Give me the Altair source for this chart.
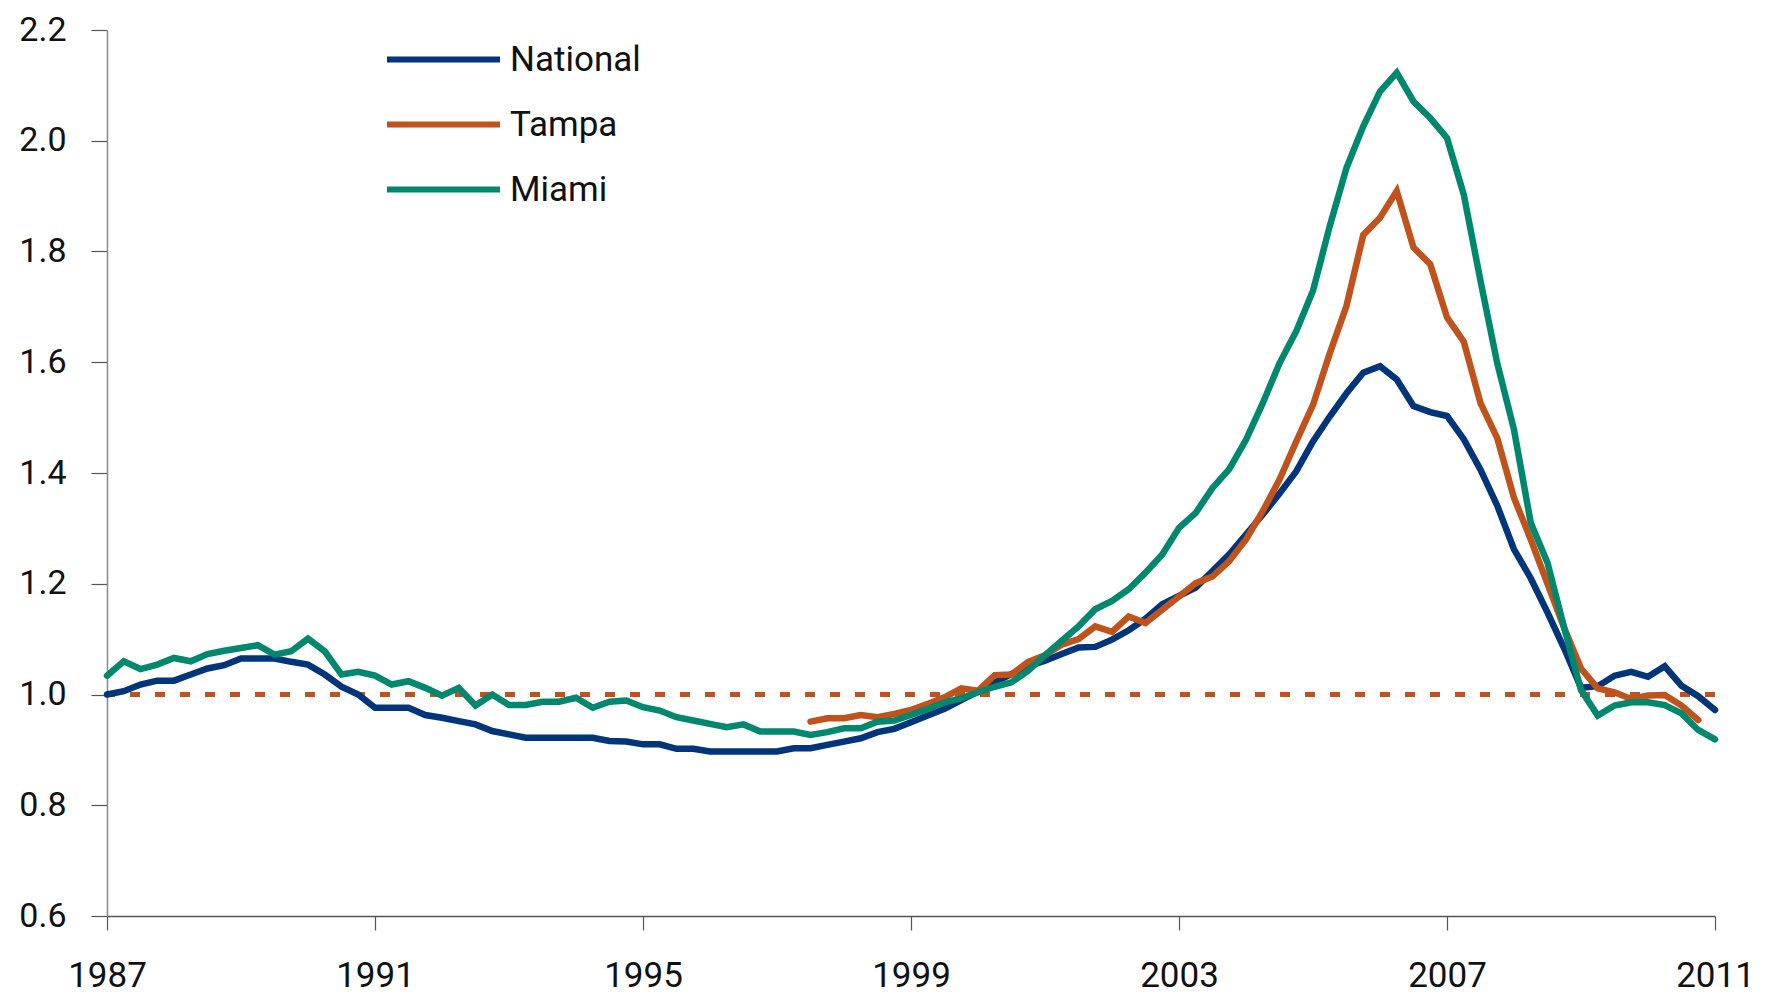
import altair as alt
import pandas as pd

# ---------------- data ----------------
start_year = 1987
n_quarters = 97  # 1987Q1 .. 2011Q1
quarters = [start_year + q / 4 for q in range(n_quarters)]

national = [
    1.000, 1.006, 1.018, 1.025, 1.025, 1.036, 1.047, 1.053, 1.065, 1.065,
    1.065, 1.059, 1.054, 1.036, 1.014, 1.000, 0.976, 0.976, 0.976, 0.963,
    0.958, 0.952, 0.946, 0.934, 0.928, 0.922, 0.922, 0.922, 0.922, 0.922,
    0.916, 0.915, 0.910, 0.910, 0.902, 0.902, 0.897, 0.897, 0.897, 0.897,
    0.897, 0.903, 0.903, 0.909, 0.915, 0.921, 0.932, 0.938, 0.950, 0.962,
    0.974, 0.990, 1.005, 1.022, 1.037, 1.051, 1.061, 1.073, 1.085, 1.086,
    1.099, 1.116, 1.137, 1.163, 1.178, 1.193, 1.223, 1.253, 1.289, 1.325,
    1.363, 1.403, 1.457, 1.502, 1.544, 1.581, 1.593, 1.569, 1.521, 1.510,
    1.503, 1.461, 1.406, 1.341, 1.262, 1.210, 1.148, 1.083, 1.012, 1.015,
    1.034, 1.041, 1.032, 1.051, 1.016, 0.997, 0.972,
]

miami = [
    1.034, 1.060, 1.046, 1.054, 1.066, 1.060, 1.073, 1.079, 1.084, 1.089,
    1.072, 1.078, 1.101, 1.078, 1.036, 1.041, 1.034, 1.018, 1.024, 1.012,
    0.998, 1.012, 0.980, 1.000, 0.981, 0.981, 0.987, 0.987, 0.994, 0.976,
    0.987, 0.989, 0.977, 0.971, 0.959, 0.953, 0.947, 0.941, 0.946, 0.933,
    0.933, 0.933, 0.927, 0.932, 0.939, 0.939, 0.951, 0.953, 0.963, 0.974,
    0.986, 0.993, 1.004, 1.014, 1.022, 1.043, 1.071, 1.097, 1.123, 1.154,
    1.169, 1.190, 1.220, 1.253, 1.301, 1.328, 1.373, 1.407, 1.460, 1.526,
    1.598, 1.656, 1.729, 1.846, 1.951, 2.026, 2.089, 2.123, 2.071, 2.041,
    2.005, 1.903, 1.747, 1.598, 1.478, 1.310, 1.238, 1.120, 1.008, 0.962,
    0.980, 0.986, 0.986, 0.981, 0.966, 0.936, 0.919,
]

tampa_start = 42  # 1997Q3
tampa = [
    0.951, 0.957, 0.957, 0.963, 0.959, 0.965, 0.972, 0.983, 0.995, 1.011,
    1.007, 1.035, 1.036, 1.059, 1.071, 1.090, 1.100, 1.123, 1.113, 1.141,
    1.129, 1.153, 1.177, 1.201, 1.213, 1.241, 1.280, 1.331, 1.388, 1.457,
    1.523, 1.616, 1.702, 1.830, 1.861, 1.909, 1.807, 1.777, 1.681, 1.637,
    1.526, 1.463, 1.355, 1.280, 1.200, 1.120, 1.047, 1.011, 1.004, 0.992,
    0.998, 0.999, 0.980, 0.954,
]

series_names = ["National", "Tampa", "Miami"]
series_colors = ["#00357A", "#C0521B", "#00886F"]
x_ticks = [1987, 1991, 1995, 1999, 2003, 2007, 2011]
y_ticks = [0.6, 0.8, 1.0, 1.2, 1.4, 1.6, 1.8, 2.0, 2.2]
ref_value = [1.0]

FONT = "Roboto"

rows = []
for t, v in zip(quarters, national):
    rows.append({"t": t, "v": v, "s": "National"})
for t, v in zip(quarters[tampa_start:], tampa):
    rows.append({"t": t, "v": v, "s": "Tampa"})
for t, v in zip(quarters, miami):
    rows.append({"t": t, "v": v, "s": "Miami"})
df = pd.DataFrame(rows)

y_scale = alt.Scale(domain=[0.6, 2.2], nice=False, zero=False)

x_enc = alt.X(
    "t:Q",
    scale=alt.Scale(domain=[1987, 2011], nice=False, zero=False),
    axis=alt.Axis(
        values=x_ticks, format="d", title=None, grid=False,
        labelFont=FONT, labelFontSize=35, labelColor="#111111",
        labelPadding=28, tickSize=14, tickColor="#555555", tickWidth=1.2,
        domainColor="#555555", domainWidth=1.5, labelFlush=False,
    ),
)
y_enc = alt.Y(
    "v:Q",
    scale=y_scale,
    axis=alt.Axis(
        values=y_ticks, format=".1f", title=None, grid=False,
        labelFont=FONT, labelFontSize=34, labelColor="#111111",
        labelPadding=25, tickSize=16, tickColor="#555555", tickWidth=1.2,
        domainColor="#888888", domainWidth=1.5,
    ),
)

rule = alt.Chart(pd.DataFrame({"v": ref_value})).mark_rule(
    color="#C0521B", strokeDash=[10, 15], strokeWidth=5
).encode(y=alt.Y("v:Q", scale=y_scale))

lines = alt.Chart(df).mark_line(strokeWidth=6.5, strokeCap="round").encode(
    x=x_enc,
    y=y_enc,
    color=alt.Color(
        "s:N",
        scale=alt.Scale(domain=series_names, range=series_colors),
        sort=series_names,
        legend=alt.Legend(
            title=None, orient="none", legendX=305, legendY=-2,
            symbolType="M-2,0H2", symbolSize=3192, symbolStrokeWidth=6,
            labelFont=FONT, labelFontSize=35, labelColor="#111111",
            labelOffset=35, rowPadding=15, padding=0,
        ),
    ),
)

chart = (
    alt.layer(rule, lines)
    .properties(
        width=1608, height=886,
        autosize=alt.AutoSizeParams(type="none"),
        padding={"left": 99, "top": 22, "right": 49, "bottom": 84},
    )
    .configure_view(stroke=None)
)

chart.save("out.html", embed_options={"renderer": "svg", "actions": False})
